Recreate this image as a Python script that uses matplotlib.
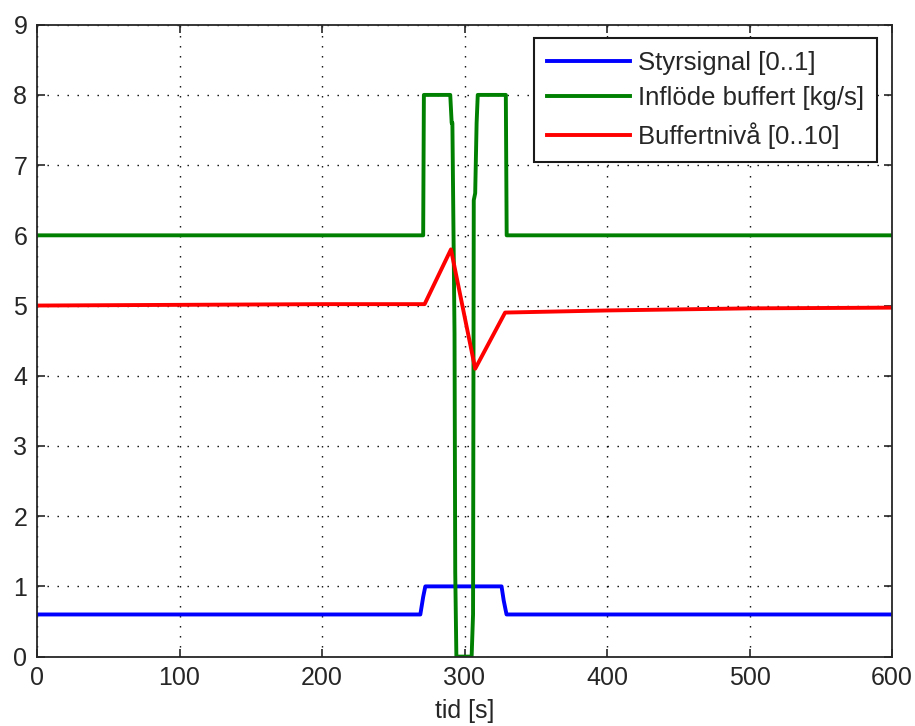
import matplotlib
matplotlib.use("Agg")
import matplotlib.pyplot as plt

# Data
t_styr = [0, 269, 271, 272.5, 326, 327.5, 329.5, 600]
styr = [0.6, 0.6, 0.85, 1.0, 1.0, 0.8, 0.6, 0.6]

t_infl = [0, 271, 271.5, 290, 291, 291.5, 293, 293.5, 294.3, 305, 306, 306.5, 307.5, 308.5, 309.3, 329, 329.6, 600]
infl = [6, 6, 8, 8, 7.6, 7.6, 4.6, 1.2, 0, 0, 0.6, 6.5, 6.6, 7.6, 8, 8, 6, 6]

t_niva = [0, 200, 272, 290.5, 307.5, 328.5, 400, 500, 600]
niva = [5.0, 5.02, 5.02, 5.8, 4.1, 4.9, 4.93, 4.96, 4.97]

labels = ["Styrsignal [0..1]", "Inflöde buffert [kg/s]", "Buffertnivå [0..10]"]
xticks = [0, 100, 200, 300, 400, 500, 600]
yticks = list(range(0, 10))

plt.rcParams['font.family'] = ['Liberation Sans', 'DejaVu Sans']
plt.rcParams['font.size'] = 18

fig = plt.figure(figsize=(9.15, 7.26), dpi=100)
ax = fig.add_axes([37/915, 1-656.6/726, (892-37)/915, (656.6-24.7)/726])

lw = 2.8
ax.plot(t_styr, styr, color='#0000FF', lw=lw, label=labels[0])
ax.plot(t_infl, infl, color='#008000', lw=lw, label=labels[1])
ax.plot(t_niva, niva, color='#FF0000', lw=lw, label=labels[2])

ax.set_xlim(0, 600)
ax.set_ylim(0, 9)
ax.set_xticks(xticks)
ax.set_yticks(yticks)
ax.grid(True, color='black', linestyle=(0, (1, 6.2)), linewidth=1.0)
ax.tick_params(direction='in', length=6, width=1.2, top=True, right=True,
               colors='#262626', labelcolor='#262626', pad=7)
for s in ax.spines.values():
    s.set_linewidth(1.3)
    s.set_color('#262626')
ax.set_xlabel("tid [s]", labelpad=6, color='#262626')

leg = ax.legend(loc='upper right', bbox_to_anchor=(877/915, 1-38/726),
                bbox_transform=fig.transFigure, borderaxespad=0,
                fancybox=False, framealpha=1, edgecolor='#1a1a1a',
                handlelength=3.25, handletextpad=0.3, borderpad=0.5,
                labelspacing=0.45, prop={'size': 18.5})
leg.get_frame().set_linewidth(1.5)
for t in leg.get_texts():
    t.set_color('#262626')

fig.savefig("out.png", dpi=100)
